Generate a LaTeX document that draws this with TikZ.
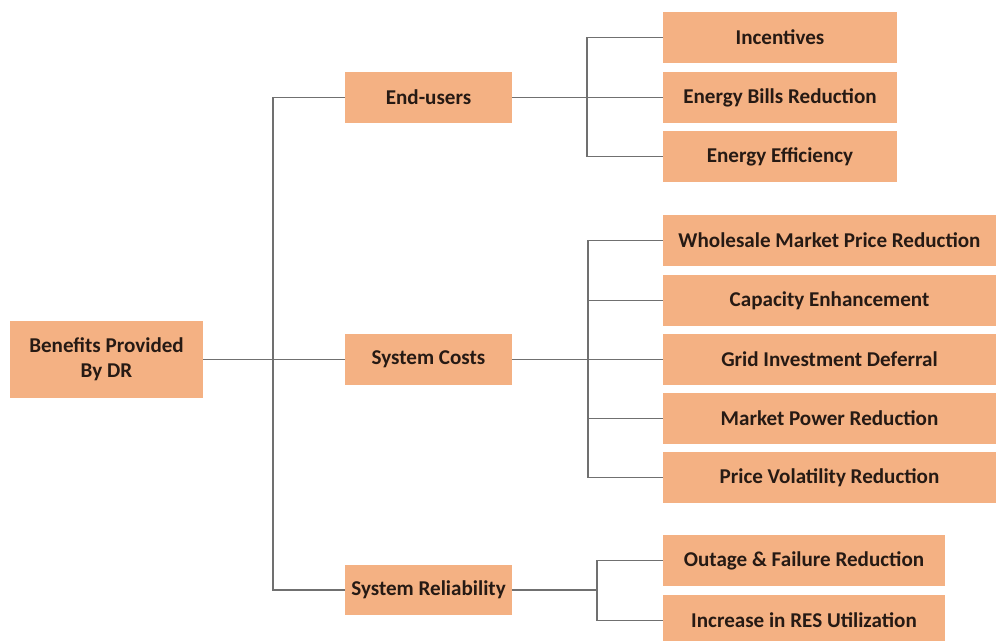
\documentclass[tikz,border=0pt]{standalone}
\usepackage{fontspec}
\setmainfont{Carlito}
\definecolor{boxfill}{RGB}{244,177,131}
\definecolor{linegray}{RGB}{112,112,112}
\definecolor{txt}{RGB}{38,26,20}
\tikzstyle{bx}=[fill=boxfill,text=txt,font=\fontsize{12}{14}\selectfont\bfseries,align=center,inner sep=1pt]
\tikzstyle{mid}=[bx,minimum width=3.34cm,minimum height=1.02cm]
\tikzstyle{lf}=[bx,minimum width=4.68cm,minimum height=1.02cm]
\tikzstyle{lfw}=[bx,minimum width=6.66cm,minimum height=1.02cm]
\tikzstyle{ln}=[draw=linegray,line width=1.1pt]

\begin{document}
\begin{tikzpicture}[x=0.02cm,y=-0.02cm]
	\useasboundingbox (0,0) rectangle (996,641);
	\clip (0,0) rectangle (996,641);
	% root and first level
	\node[bx,minimum width=3.86cm,minimum height=1.54cm] (root) at (106.5,359.5) {Benefits Provided\\By DR};
	\node[mid] (eu) at (428.5,97.5) {End-users};
	\node[mid] (sc) at (428.5,359.5) {System Costs};
	\node[mid] (sr) at (428.5,590) {System Reliability};
	% end-users
	\node[lf] (inc) at (780,37.5) {Incentives};
	\node[lf] (ebr) at (780,97.5) {Energy Bills Reduction};
	\node[lf] (eef) at (780,156.5) {Energy Efficiency};
	% system costs
	\node[lfw] (wmp) at (829.5,240.5) {Wholesale Market Price Reduction};
	\node[lfw] (cap) at (829.5,300.5) {Capacity Enhancement};
	\node[lfw] (gid) at (829.5,359.5) {Grid Investment Deferral};
	\node[lfw] (mpr) at (829.5,418.5) {Market Power Reduction};
	\node[lfw] (pvr) at (829.5,477.5) {Price Volatility Reduction};
	% system reliability
	\node[bx,minimum width=5.64cm,minimum height=1.02cm] (ofr) at (804,560.5) {Outage \& Failure Reduction};
	\node[bx,minimum width=5.64cm,minimum height=1.02cm] (res) at (804,620.5) {Increase in RES Utilization};
	% connectors
	\coordinate (j0) at (273,359.5);
	\coordinate (j1) at (587,97.5);
	\coordinate (j2) at (588,359.5);
	\coordinate (j3) at (597,590);
	\draw[ln] (root.east) -- (sc.west);
	\draw[ln] (eu.west) -| (j0) |- (sr.west);
	\draw[ln] (eu.east) -- (ebr.west);
	\draw[ln] (inc.west) -| (j1) |- (eef.west);
	\draw[ln] (sc.east) -- (gid.west);
	\draw[ln] (wmp.west) -| (j2) |- (pvr.west);
	\draw[ln] (j2 |- cap.west) -- (cap.west);
	\draw[ln] (j2 |- mpr.west) -- (mpr.west);
	\draw[ln] (sr.east) -- (j3);
	\draw[ln] (ofr.west) -| (j3) |- (res.west);
\end{tikzpicture}
\end{document}
